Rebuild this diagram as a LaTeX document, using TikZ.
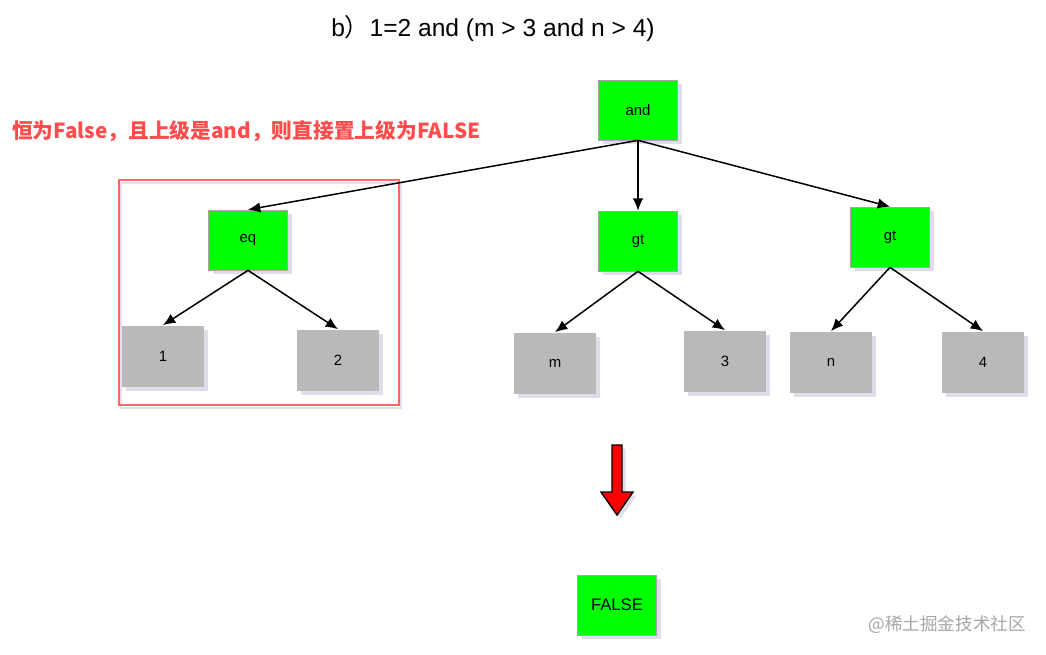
\documentclass[tikz,border=0pt]{standalone}
\usepackage{fontspec}
\setmainfont{Liberation Sans}
\newfontfamily\cjk{Noto Sans CJK SC}
\usetikzlibrary{arrows.meta, shadows}

\begin{document}
\begin{tikzpicture}[x=0.02cm, y=-0.02cm,
  every shadow/.style={fill=blue!40!black, opacity=0.13},
  opnode/.style={draw=gray!70, fill=green, minimum width=1.58cm, minimum height=1.2cm,
    font=\fontsize{8.5}{10}\selectfont, drop shadow={shadow xshift=2.5pt, shadow yshift=-2.5pt}},
  leaf/.style={fill=gray!55, minimum width=1.64cm, minimum height=1.22cm,
    font=\fontsize{8.5}{10}\selectfont, drop shadow={shadow xshift=2.5pt, shadow yshift=-2.5pt}},
  edge/.style={-{Latex[length=7pt, width=6pt]}, line width=0.85pt}]
  \useasboundingbox (0,0) rectangle (1046,654);

  % texts
  \node (title) at (493,29) {\fontsize{14}{16}\selectfont b{\cjk ）}1=2 and (m > 3 and n > 4)};
  \node[anchor=west, text=red!70!white, font=\bfseries] (note) at (6,131)
    {\cjk\fontsize{11.8}{14}\selectfont 恒为False，且上级是and，则直接置上级为FALSE};
  \node[anchor=east, text=gray!70] (mark) at (1032,625) {\cjk\fontsize{10}{12}\selectfont @稀土掘金技术社区};

  % red frame
  \draw[blue!40!black, opacity=0.12, line width=1.5pt] (121,183) rectangle (401,408);
  \draw[red!60, line width=0.8pt] (119,180) rectangle (399,405);

  % tree
  \node[opnode] (and) at (638,110) {and};
  \node[opnode] (eq) at (248,240) {eq};
  \node[opnode] (gt_l) at (638,241) {gt};
  \node[opnode] (gt_r) at (890,237) {gt};

  \node[leaf] (one) at (163,356) {1};
  \node[leaf] (two) at (338,360) {2};
  \node[leaf] (m) at (555,363) {m};
  \node[leaf] (three) at (725,361) {3};
  \node[leaf] (n) at (831,362) {n};
  \node[leaf] (four) at (983,362) {4};

  \node[opnode, font=\fontsize{9.5}{11}\selectfont] (false) at (617,605) {FALSE};

  \draw[edge] (and.south) -- (eq.north);
  \draw[edge] (and.south) -- (gt_l.north);
  \draw[edge] (and.south) -- (gt_r.north);
  \draw[edge] (eq.south) -- (one.north);
  \draw[edge] (eq.south) -- (two.north);
  \draw[edge] (gt_l.south) -- (m.north);
  \draw[edge] (gt_l.south) -- (three.north);
  \draw[edge] (gt_r.south) -- (n.north);
  \draw[edge] (gt_r.south) -- (four.north);

  % red arrow
  \draw[fill=red, line width=0.8pt, line join=miter, drop shadow={shadow xshift=2pt, shadow yshift=-2pt}]
    (612,445) -- (622,445) -- (622,492) -- (633,492) -- (617,515) -- (601,492) -- (612,492) -- cycle;
\end{tikzpicture}
\end{document}
